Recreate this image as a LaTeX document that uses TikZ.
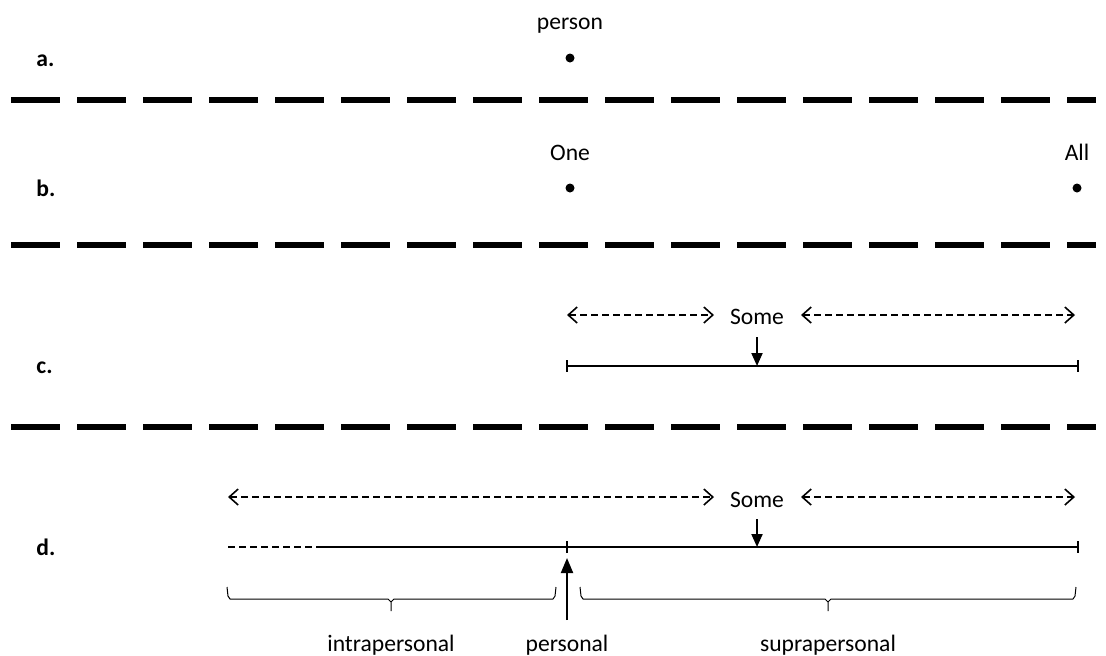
\documentclass[tikz,border=0pt]{standalone}
\usepackage{fontspec}
\setmainfont{Carlito}
\usetikzlibrary{arrows.meta}
\begin{document}
\begin{tikzpicture}[x=0.5pt,y=-0.5pt,
  font=\fontsize{11.8}{13}\selectfont,
  lbl/.style={anchor=base west,font=\fontsize{11.8}{13}\selectfont\bfseries,inner sep=0pt},
  txt/.style={anchor=base,inner sep=0pt},
  sep/.style={line width=3pt,dash pattern=on 24.5pt off 8.5pt},
  pt/.style={circle,fill=black,inner sep=0pt,minimum size=4.5pt},
  rng/.style={line width=0.7pt,dash pattern=on 3.5pt off 2pt,{Straight Barb[length=4.5pt,width=8pt,line width=0.8pt]}-{Straight Barb[length=4.5pt,width=8pt,line width=0.8pt]}},
  axis/.style={line width=0.65pt},
  pointer/.style={line width=1pt,-{Triangle[length=6.5pt,width=5.5pt]}},
  bracket/.style={line width=0.5pt,line join=round}
]
\useasboundingbox (0,0) rectangle (1106,655);

% separators
\coordinate (s1l) at (11,100); \coordinate (s1r) at (1096,100);
\coordinate (s2l) at (11,245); \coordinate (s2r) at (1096,245);
\coordinate (s3l) at (11,427); \coordinate (s3r) at (1096,427);
\draw[sep] (s1l) -- (s1r);
\draw[sep] (s2l) -- (s2r);
\draw[sep] (s3l) -- (s3r);

% labels
\node[lbl] (la) at (36,66) {a.};
\node[lbl] (lb) at (36,196) {b.};
\node[lbl] (lc) at (36,373) {c.};
\node[lbl] (ld) at (36,555) {d.};

% a.
\node[txt] (person) at (570,29) {person};
\node[pt] (pdot) at (570,58) {};

% b.
\node[txt] (one) at (570,160) {One};
\node[pt] (onedot) at (570,188) {};
\node[txt] (all) at (1077,160) {All};
\node[pt] (alldot) at (1077,188) {};

% c.
\node[txt] (somec) at (757,324) {Some};
\coordinate (cL) at (567,366);
\coordinate (cR) at (1078,366);
\coordinate (cS) at (757,366);
\draw[axis] (cL) -- (cR);
\coordinate (cLt) at (567,360); \coordinate (cLb) at (567,372);
\coordinate (cRt) at (1078,360); \coordinate (cRb) at (1078,372);
\draw[axis] (cLt) -- (cLb);
\draw[axis] (cRt) -- (cRb);
\coordinate (cal) at (567,315); \coordinate (car) at (714,315);
\coordinate (cbl) at (801,315); \coordinate (cbr) at (1075,315);
\draw[rng] (cal) -- (car);
\draw[rng] (cbl) -- (cbr);
\coordinate (cStop) at (757,337);
\draw[pointer] (cStop) -- (cS);

% d.
\node[txt] (somed) at (757,507) {Some};
\coordinate (dA) at (228,547);
\coordinate (dB) at (316,547);
\coordinate (dP) at (567,547);
\coordinate (dS) at (757,547);
\coordinate (dR) at (1078,547);
\draw[line width=0.6pt,dash pattern=on 3.5pt off 2pt] (dA) -- (dB);
\draw[axis] (dB) -- (dR);
\coordinate (dPt) at (567,541); \coordinate (dPb) at (567,553);
\coordinate (dRt) at (1078,541); \coordinate (dRb) at (1078,553);
\draw[axis] (dPt) -- (dPb);
\draw[axis] (dRt) -- (dRb);
\coordinate (dal) at (228,497); \coordinate (dar) at (714,497);
\coordinate (dbl) at (801,497); \coordinate (dbr) at (1075,497);
\draw[rng] (dal) -- (dar);
\draw[rng] (dbl) -- (dbr);
\coordinate (dStop) at (757,519);
\draw[pointer] (dStop) -- (dS);
\coordinate (pBot) at (567,620);
\coordinate (pTop) at (567,558);
\draw[line width=1pt,-{Triangle[length=7.5pt,width=6pt]}] (pBot) -- (pTop);

% braces
\draw[bracket] (227,587) -- (228,596) -- (230,599) -- (388,599) -- (391,602) -- (391,611)
   (391,602) -- (394,599) -- (553,599) -- (555,596) -- (556,587);
\draw[bracket] (580,587) -- (581,596) -- (583,599) -- (825,599) -- (828,602) -- (828,611)
   (828,602) -- (831,599) -- (1073,599) -- (1075,596) -- (1076,587);

\node[txt] (intra) at (391,651) {intrapersonal};
\node[txt] (pers) at (567,651) {personal};
\node[txt] (supra) at (828,651) {suprapersonal};
\end{tikzpicture}
\end{document}
